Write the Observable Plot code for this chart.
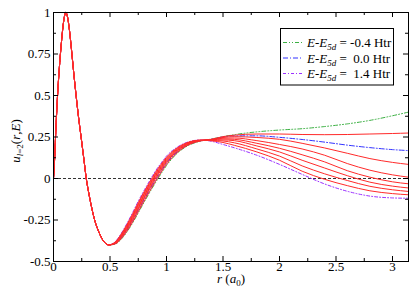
<!DOCTYPE html>
<html><head><meta charset="utf-8">
<script src="https://cdn.jsdelivr.net/npm/d3@7"></script>
<script src="https://cdn.jsdelivr.net/npm/@observablehq/plot@0.6"></script>
<style>body{margin:0;background:#fff} svg text{font-family:"Liberation Serif","Times New Roman",serif}</style>
</head><body><div id="chart"></div>
<script>
// radial grid (a0)
const rGrid = [0, 0.01, 0.02, 0.035, 0.05, 0.065, 0.08, 0.095, 0.11, 0.125, 0.14, 0.163, 0.18, 0.2, 0.225, 0.246, 0.27, 0.29, 0.31, 0.33, 0.364, 0.4, 0.44, 0.49,
  0.55, 0.6, 0.65, 0.7, 0.75, 0.8, 0.85, 0.9, 0.95, 1.0, 1.1, 1.2, 1.3, 1.4, 1.5, 1.6, 1.8, 2.0, 2.2, 2.4, 2.6, 2.8, 3.0, 3.14159];
// shared inner part of all curves (r <= 0.49)
const uCore = [0, 0.12, 0.28, 0.49, 0.65, 0.78, 0.89, 0.97, 1.0, 0.97, 0.9, 0.75, 0.63, 0.5, 0.35, 0.24, 0.11, 0, -0.08, -0.15, -0.25, -0.32, -0.375, -0.40];
// energies E - E5d (Htr)
const energies = [-0.4, -0.2, 0.0, 0.2, 0.4, 0.6, 0.8, 1.0, 1.2, 1.4];
// outer parts (r >= 0.55)
const tailEm04 = [-0.394, -0.365, -0.322, -0.268, -0.207, -0.145, -0.085, -0.028, 0.027, 0.078, 0.155, 0.201, 0.225, 0.238, 0.252, 0.264, 0.281, 0.292, 0.300, 0.313, 0.329, 0.350, 0.378, 0.400];
const tailEm02 = [-0.393, -0.362, -0.317, -0.262, -0.200, -0.138, -0.078, -0.020, 0.035, 0.085, 0.159, 0.204, 0.226, 0.237, 0.252, 0.261, 0.268, 0.268, 0.265, 0.264, 0.265, 0.268, 0.271, 0.274];
const tailE00 = [-0.391, -0.358, -0.312, -0.256, -0.192, -0.130, -0.070, -0.012, 0.042, 0.092, 0.163, 0.206, 0.227, 0.236, 0.250, 0.257, 0.257, 0.248, 0.235, 0.219, 0.201, 0.186, 0.174, 0.168];
const tailE02 = [-0.389, -0.355, -0.306, -0.249, -0.185, -0.122, -0.062, -0.004, 0.049, 0.098, 0.167, 0.208, 0.228, 0.235, 0.247, 0.252, 0.247, 0.236, 0.212, 0.184, 0.152, 0.120, 0.097, 0.085];
const tailE04 = [-0.388, -0.351, -0.301, -0.242, -0.177, -0.114, -0.055, 0.004, 0.056, 0.104, 0.171, 0.211, 0.229, 0.233, 0.243, 0.244, 0.228, 0.205, 0.178, 0.140, 0.090, 0.050, 0.022, 0.008];
const tailE06 = [-0.386, -0.347, -0.295, -0.235, -0.169, -0.106, -0.047, 0.012, 0.063, 0.110, 0.175, 0.213, 0.229, 0.232, 0.238, 0.236, 0.212, 0.182, 0.143, 0.100, 0.047, 0.008, -0.020, -0.032];
const tailE08 = [-0.384, -0.343, -0.289, -0.228, -0.161, -0.098, -0.039, 0.019, 0.070, 0.116, 0.179, 0.216, 0.230, 0.231, 0.232, 0.228, 0.196, 0.160, 0.110, 0.063, 0.017, -0.022, -0.046, -0.057];
const tailE10 = [-0.382, -0.339, -0.283, -0.221, -0.153, -0.090, -0.031, 0.027, 0.077, 0.122, 0.183, 0.218, 0.231, 0.229, 0.226, 0.215, 0.178, 0.135, 0.076, 0.028, -0.012, -0.047, -0.068, -0.078];
const tailE12 = [-0.380, -0.334, -0.277, -0.213, -0.145, -0.082, -0.023, 0.035, 0.084, 0.128, 0.187, 0.220, 0.231, 0.227, 0.217, 0.200, 0.160, 0.110, 0.044, -0.005, -0.043, -0.074, -0.091, -0.098];
const tailE14 = [-0.378, -0.330, -0.271, -0.206, -0.137, -0.074, -0.015, 0.043, 0.091, 0.135, 0.191, 0.222, 0.232, 0.224, 0.205, 0.185, 0.140, 0.085, 0.025, -0.033, -0.077, -0.106, -0.117, -0.119];
const tails = [tailEm04, tailEm02, tailE00, tailE02, tailE04, tailE06, tailE08, tailE10, tailE12, tailE14];

const xTicks = [0, 0.5, 1, 1.5, 2, 2.5, 3];
const xMinor = [0.25, 0.75, 1.25, 1.75, 2.25, 2.75];
const yTicks = [-0.5, -0.25, 0, 0.25, 0.5, 0.75, 1];
const yMinor = [-0.375, -0.125, 0.125, 0.375, 0.625, 0.875];
const legendLabels = ["-0.4", " 0.0", " 1.4"];

const rows = [];
energies.forEach((E, i) => {
  const u = uCore.concat(tails[i]);
  rGrid.forEach((r, j) => rows.push({E, i, r, u: u[j]}));
});
const pick = i => rows.filter(d => d.i === i);
const reds = rows.filter(d => ![0, 2, 9].includes(d.i));

const W = 415, H = 297, mL = 53, mR = 7, mT = 12, mB = 36;
const pw = W - mL - mR, ph = H - mT - mB;
const curve = "monotone-x";
const ff = '"Liberation Serif", "Times New Roman", serif';

const svg = Plot.plot({
  width: W, height: H,
  marginLeft: mL, marginRight: mR, marginTop: mT, marginBottom: mB,
  style: {fontFamily: ff, fontSize: "13px", background: "white", color: "black"},
  x: {domain: [0, Math.PI]},
  y: {domain: [-0.5, 1]},
  marks: [
    Plot.ruleY([0], {stroke: "#333", strokeDasharray: "3,2", strokeWidth: 1}),
    Plot.line(pick(0), {x: "r", y: "u", curve, stroke: "#3cb043", strokeWidth: 1, strokeDasharray: "4,2,1,2,1,2"}),
    Plot.line(pick(2), {x: "r", y: "u", curve, stroke: "#3333ff", strokeWidth: 1, strokeDasharray: "5,2,1,2"}),
    Plot.line(pick(9), {x: "r", y: "u", curve, stroke: "#9b30ff", strokeWidth: 1, strokeDasharray: "3,2,1,2"}),
    Plot.line(reds, {x: "r", y: "u", z: "E", curve, stroke: "#ff2a2a", strokeWidth: 1}),
    Plot.frame({stroke: "black"}),
    Plot.tickX(xTicks, {x: d => d, insetTop: ph - 5, stroke: "black"}),
    Plot.tickX(xTicks, {x: d => d, insetBottom: ph - 5, stroke: "black"}),
    Plot.tickX(xMinor, {x: d => d, insetTop: ph - 3, stroke: "black"}),
    Plot.tickX(xMinor, {x: d => d, insetBottom: ph - 3, stroke: "black"}),
    Plot.tickY(yTicks, {y: d => d, insetRight: pw - 5, stroke: "black"}),
    Plot.tickY(yTicks, {y: d => d, insetLeft: pw - 5, stroke: "black"}),
    Plot.tickY(yMinor, {y: d => d, insetRight: pw - 3, stroke: "black"}),
    Plot.tickY(yMinor, {y: d => d, insetLeft: pw - 3, stroke: "black"}),
    Plot.axisX(xTicks, {anchor: "bottom", tickSize: 0, tickPadding: 0, tickFormat: d => String(d), label: null}),
    Plot.axisY(yTicks, {anchor: "left", tickSize: 0, tickPadding: 3, tickFormat: d => String(d), label: null})
  ]
});
document.getElementById("chart").appendChild(svg);

const s = d3.select(svg);
// x label
const xl = s.append("text").attr("x", 231).attr("y", 283).attr("text-anchor", "middle")
  .attr("font-size", 13).attr("fill", "black");
xl.append("tspan").attr("font-style", "italic").text("r");
xl.append("tspan").text(" (");
xl.append("tspan").attr("font-style", "italic").text("a");
xl.append("tspan").attr("font-size", 9).attr("dy", 3).text("0");
xl.append("tspan").attr("dy", -3).text(")");
// y label
const yl = s.append("text").attr("transform", "translate(20,141) rotate(-90)").attr("text-anchor", "middle")
  .attr("font-size", 13).attr("fill", "black");
yl.append("tspan").attr("font-style", "italic").text("u");
yl.append("tspan").attr("font-size", 9).attr("dy", 3).attr("font-style", "italic").text("l");
yl.append("tspan").attr("font-size", 9).text("=2");
yl.append("tspan").attr("dy", -3).text("(");
yl.append("tspan").attr("font-style", "italic").text("r");
yl.append("tspan").text(",");
yl.append("tspan").attr("font-style", "italic").text("E");
yl.append("tspan").text(")");
// legend
const lg = s.append("g");
lg.append("rect").attr("x", 280.5).attr("y", 28.5).attr("width", 113).attr("height", 56.5)
  .attr("fill", "white").attr("stroke", "black").attr("stroke-width", 1);
const lStyles = [
  {c: "#3cb043", d: "4,2,1,2,1,2"},
  {c: "#3333ff", d: "5,2,1,2"},
  {c: "#9b30ff", d: "3,2,1,2"}
];
const rowsY = [42.5, 58, 73.5];
legendLabels.forEach((lab, k) => {
  const y = rowsY[k];
  lg.append("line").attr("x1", 283).attr("x2", 302).attr("y1", y).attr("y2", y)
    .attr("stroke", lStyles[k].c).attr("stroke-dasharray", lStyles[k].d).attr("stroke-width", 1);
  const t = lg.append("text").attr("x", 307).attr("y", y + 4.5).attr("text-anchor", "start")
    .attr("font-size", 13).attr("fill", "black").style("white-space", "pre");
  t.append("tspan").attr("font-style", "italic").text("E");
  t.append("tspan").text("-");
  t.append("tspan").attr("font-style", "italic").text("E");
  t.append("tspan").attr("font-size", 9).attr("dy", 3).attr("font-style", "italic").text("5d");
  t.append("tspan").attr("dy", -3).text(" = " + lab + " Htr");
});
</script>
</body></html>
